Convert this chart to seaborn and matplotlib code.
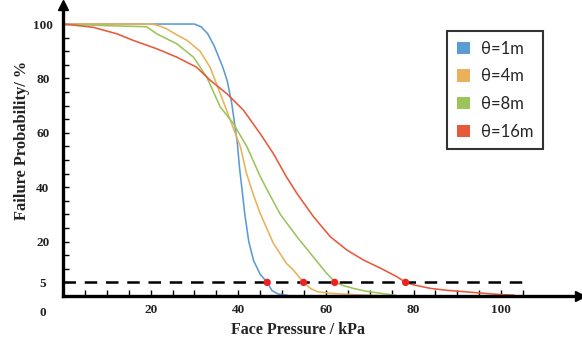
import numpy as np
import pandas as pd
import matplotlib
matplotlib.use("Agg")
import matplotlib.pyplot as plt
import seaborn as sns
from matplotlib.patches import Patch
from matplotlib.ticker import FixedLocator, FixedFormatter

# ---- data ----
x_1m = [0, 30, 31.5, 33, 34.5, 35.5, 36.5, 37.5, 38.5, 39.2, 39.8, 40.3, 40.8, 41.5, 42.4, 43.5, 45, 46.6, 47.7, 49, 52]
y_1m = [100, 100, 99, 96.5, 92, 88, 84, 79, 71, 63, 56, 47, 40, 30, 20, 13, 8, 5, 2, 0.8, 0]

x_4m = [0, 20.3, 22, 23.7, 26, 28.3, 31.3, 33.6, 35.9, 38.2, 40.5, 41.9, 43.5, 45, 48, 51, 52.6, 54.9, 56.5, 58, 61, 64.8, 70, 75]
y_4m = [100, 100, 99.3, 98.2, 96, 94, 90, 84, 74.4, 64.6, 54.8, 45, 37, 30.4, 19.4, 12, 9.5, 5, 2.8, 1.6, 1.0, 0.6, 0.3, 0]

x_8m = [0, 5, 10, 15, 19.1, 21.4, 26, 29.8, 32.8, 35.9, 38.9, 42, 45, 46.6, 49.6, 53.4, 57.1, 60.2, 62.2, 64, 66.3, 69, 72.5, 76]
y_8m = [100, 99.7, 99.4, 99.2, 99, 96.4, 92.7, 87.8, 80.5, 69.5, 63.4, 54.8, 44, 39, 30, 21.8, 14.4, 8.3, 5, 3.8, 2.8, 1.8, 1, 0.2]

x_16m = [0, 3, 6.9, 12.3, 16, 21.4, 26, 30.5, 33.6, 37.4, 41.2, 45, 48, 51, 53.4, 57.2, 61, 64.8, 68.6, 72.5, 76.2, 78.2, 80, 83.9, 87, 91.4, 96, 100, 103]
y_16m = [100, 99.5, 98.8, 96.4, 94, 90.9, 87.8, 84.1, 79.3, 74.4, 68.3, 59.7, 52.4, 43.8, 37.7, 29.1, 21.8, 16.9, 13.2, 10.2, 7.1, 5, 4.1, 2.8, 2.2, 1.6, 1.0, 0.5, 0.3]

labels = ["θ=1m", "θ=4m", "θ=8m", "θ=16m"]
colors = ["#5B9BD5", "#EBB05A", "#9BC55B", "#E8583A"]

threshold = 5
cross_x = [46.6, 54.9, 62.0, 78.2]
cross_y = [5, 5, 5, 5]

y_tick_vals = [5, 20, 40, 60, 80, 100]
x_tick_vals = [20, 40, 60, 80, 100]

frames = []
for lab, xs, ys in zip(labels, [x_1m, x_4m, x_8m, x_16m], [y_1m, y_4m, y_8m, y_16m]):
    frames.append(pd.DataFrame({"x": xs, "y": ys, "series": lab}))
df = pd.concat(frames, ignore_index=True)

sns.set_theme(style="white")
plt.rcParams["font.family"] = ["Liberation Serif", "DejaVu Serif"]

fig = plt.figure(figsize=(5.82, 3.47), dpi=100)
ax = fig.add_axes([63 / 582, 51 / 347, 517 / 582, 291 / 347])

sns.lineplot(data=df, x="x", y="y", hue="series", palette=dict(zip(labels, colors)),
             sort=False, estimator=None, units="series", legend=False, linewidth=1.15, ax=ax)

# 5% dashed line
ax.plot([0, 105.5], [threshold, threshold], color="black", linewidth=1.8, dashes=(5, 3.5), zorder=3)
sns.scatterplot(x=cross_x, y=cross_y, color="#EE2222", s=28, edgecolor="none", zorder=5, ax=ax)

ax.set_xlim(0, 118)
ax.set_ylim(0, 107)

for s in ["top", "right"]:
    ax.spines[s].set_visible(False)
for s in ["left", "bottom"]:
    ax.spines[s].set_linewidth(2.4)
    ax.spines[s].set_color("black")

# arrows
ax.plot(1, 0, marker=">", ms=7, color="black", transform=ax.transAxes, clip_on=False)
ax.plot(0, 1, marker="^", ms=7, color="black", transform=ax.transAxes, clip_on=False)

# ticks
yt = list(range(5, 101, 5))
ax.yaxis.set_major_locator(FixedLocator(yt))
ax.yaxis.set_major_formatter(FixedFormatter([str(v) if v in y_tick_vals else "" for v in yt]))
xt = list(range(5, 106, 5))
ax.xaxis.set_major_locator(FixedLocator(xt))
ax.xaxis.set_major_formatter(FixedFormatter([str(v) if v in x_tick_vals else "" for v in xt]))
ax.tick_params(axis="both", direction="in", length=4, width=1, color="black",
               labelsize=9.5, labelcolor="#222222")
ax.tick_params(axis="y", pad=14.5, left=True)
ax.tick_params(axis="x", pad=6, bottom=True)
for t in ax.get_xticklabels() + ax.get_yticklabels():
    t.set_fontweight("bold")
for t in ax.get_yticklabels():
    t.set_ha("center")

ax.text(-4.5, -4.0, "0", ha="center", va="top", fontsize=9.5, fontweight="bold", color="#222222",
        clip_on=False)

ax.set_xlabel("Face Pressure / kPa", fontsize=11.5, fontweight="bold", color="#222222")
ax.set_ylabel("Failure Probability/ %", fontsize=11.8, fontweight="bold", color="#222222")
ax.xaxis.set_label_coords(0.455, -0.088)
ax.yaxis.set_label_coords(-0.064, 0.533)

handles = [Patch(facecolor=c, edgecolor="none") for c in colors]
leg = fig.legend(handles, labels, loc="upper left", bbox_to_anchor=(447 / 582, 1 - 31 / 347),
                 frameon=True, fancybox=False, edgecolor="black", handlelength=0.78,
                 handleheight=0.78, labelspacing=0.7, borderpad=0.58, handletextpad=0.65,
                 borderaxespad=0, prop={"family": "Lato", "size": 12})
leg.get_frame().set_linewidth(1.5)

fig.savefig("out.png", dpi=100, facecolor="white")
